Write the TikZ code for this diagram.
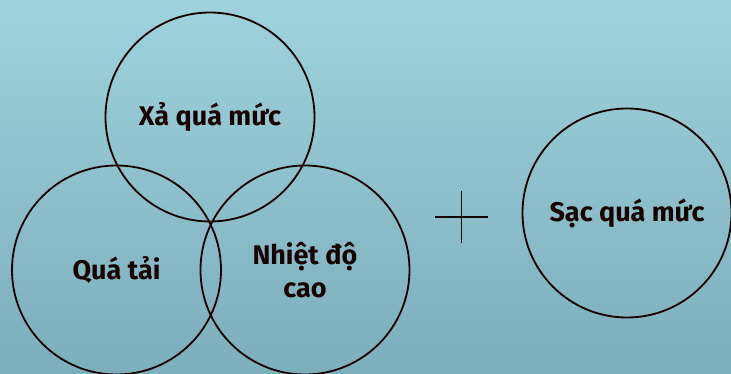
\documentclass[tikz,border=0pt]{standalone}
\usepackage{fontspec}
\setsansfont{Fira Sans}
\usepackage{tikz}

\begin{document}
\begin{tikzpicture}[x=1pt, y=-1pt, every node/.style={font=\sffamily\bfseries\fontsize{27}{33}\selectfont, text=inkcol}, line width=1.8pt]
    % Define colors
    \colorlet{inkcol}{black!85!red!60!black}
    \definecolor{bgtop}{RGB}{158,210,220}
    \definecolor{bgbot}{RGB}{124,174,187}
    \tikzset{ring/.style={circle, draw=inkcol, minimum size=209pt, inner sep=0pt, align=center}}

    % Background
    \shade[top color=bgtop, bottom color=bgbot] (0,0) rectangle (731,374);
    \useasboundingbox (0,0) rectangle (731,374);

    % Three overlapping circles
    \node[ring] (xa)    at (210,117) {Xả quá mức};
    \node[ring] (qua)   at (116.5,270) {Quá tải};
    \node[ring] (nhiet) at (305,270) {Nhiệt độ\\cao};

    % Plus sign
    \coordinate (plus) at (461.5,217);
    \draw[inkcol] (plus) ++(-26.5,0) -- ++(53,0);
    \draw[inkcol] (plus) ++(0,-26) -- ++(0,52);

    % Separate circle
    \node[ring] (sac) at (627,213) {Sạc quá mức};
\end{tikzpicture}
\end{document}
